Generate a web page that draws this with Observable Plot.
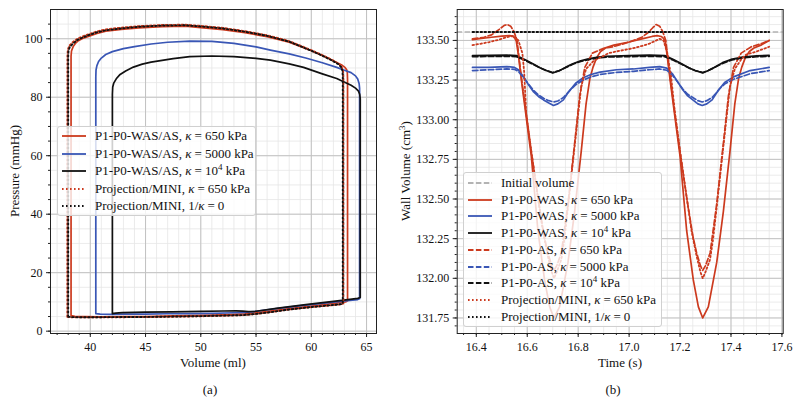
<!DOCTYPE html>
<html><head><meta charset="utf-8">
<script src="https://cdn.jsdelivr.net/npm/d3@7"></script>
<script src="https://cdn.jsdelivr.net/npm/@observablehq/plot@0.6"></script>
<style>
body{margin:0;background:#fff;}
#root{position:relative;width:800px;height:404px;overflow:hidden;font-family:"Liberation Serif",serif;font-size:13px;color:#111;background:#fff}
.panel{position:absolute;top:0}
.lbl{position:absolute;white-space:nowrap;transform:translate(-50%,-50%);line-height:1}
.rot{transform:translate(-50%,-50%) rotate(-90deg)}
.legend{position:absolute;background:rgba(255,255,255,0.8);border:1px solid #d0d0d0;border-radius:3px;box-sizing:border-box}
.row{position:absolute;left:0;height:16px;white-space:nowrap}
.row svg{position:absolute;left:3px;top:3px}
.row span{position:absolute;top:0px;line-height:15px}
.eq{padding:0 3px}
sup{font-size:9px;vertical-align:5px;line-height:0}
i{font-style:italic}
</style></head>
<body><div id="root"></div>
<script>
// ---------- Panel (a): PV loops (Volume ml, Pressure mmHg) ----------
const redWAS = [[38.26,5.3],[38.6,5.05],[39.5,4.95],[41,4.9],[43,4.95],[45,5.0],[47.5,5.2],[50,5.4],[52,5.6],[54,5.95],[55,6.3],[56,6.75],[58,7.7],[60,8.6],[62,9.5],[63.1,10.0],[63.28,10.4],[63.28,30],[63.28,60],[63.28,86],[63.26,88.4],[63.2,89.4],[63.05,90.2],[62.8,90.9],[62.3,91.9],[61.5,93.4],[60,95.9],[58,98.8],[56,100.7],[54,102.1],[52,103.1],[50,103.8],[48.6,104.3],[46.5,104.1],[44.4,103.7],[42.8,103.2],[41.4,102.6],[40.6,101.8],[39.9,100.9],[39.3,100.1],[38.87,99.2],[38.65,98.4],[38.45,97.3],[38.3,95.8],[38.26,94],[38.26,60],[38.26,30],[38.26,5.3]];
const blueWAS = [[40.5,6.0],[40.9,5.8],[42,5.75],[43,5.8],[45,5.85],[47,5.95],[49,6.0],[51,6.1],[53,6.3],[54,6.45],[55,6.8],[57,7.8],[59.5,8.9],[62,9.9],[63.5,10.5],[64.2,10.8],[64.37,11.1],[64.37,30],[64.37,60],[64.37,83],[64.33,84.6],[64.2,86.2],[64.0,87.3],[63.6,88.4],[63,89.2],[62.3,90.2],[61,91.8],[59.5,93.4],[58,94.8],[56.3,96.1],[55,97.2],[53,98.4],[51,99.1],[49,99.2],[47,98.8],[45.5,98.2],[44,97.3],[43,96.6],[42,95.6],[41.4,94.6],[41,93.4],[40.75,92.2],[40.6,90.8],[40.52,89.3],[40.5,87],[40.5,60],[40.5,30],[40.5,6.0]];
const blackWAS = [[42,6.0],[42.3,6.15],[42.9,6.35],[45,6.5],[47.4,6.6],[50,6.75],[52,6.9],[53.2,6.95],[53.8,6.85],[54.3,6.65],[55,6.8],[57,7.9],[59.5,9.1],[62,10.2],[63.5,10.85],[64.2,11.2],[64.43,11.5],[64.43,30],[64.43,60],[64.43,79.5],[64.38,81],[64.25,82.2],[64,83.1],[63.6,84.1],[62.3,86.4],[61,88.0],[59.3,90.2],[58,91.4],[56.3,92.7],[55,93.3],[53,93.9],[51,94.1],[49,93.9],[47.5,93.2],[46.5,92.6],[45.5,92.0],[44.7,91.3],[43.9,90.3],[43.2,89],[42.7,87.8],[42.35,86.3],[42.12,84.8],[42.03,83.5],[42,81],[42,60],[42,30],[42,6.0]];
const redMINI = [[37.92,4.9],[38.3,4.75],[39.5,4.7],[42,4.75],[45.9,4.85],[50,5.1],[53.8,5.45],[55,5.9],[56.5,6.6],[58,7.4],[60,8.2],[62,8.9],[62.75,9.2],[62.9,9.5],[62.9,30],[62.9,60],[62.9,87],[62.87,89],[62.75,90.4],[62.5,91.4],[62,92.5],[61,94.4],[60,96.1],[58,99.2],[56,101.2],[54,102.6],[52,103.7],[50,104.4],[48.6,104.8],[46.5,104.7],[44.4,104.3],[42.8,103.8],[41.4,103.2],[40.6,102.5],[39.9,101.6],[39.3,100.8],[38.8,99.9],[38.4,98.8],[38.1,97.6],[37.97,96.3],[37.93,94],[37.92,60],[37.92,30],[37.92,4.9]];
const blackMINI = [[38.0,4.95],[38.4,4.8],[39.5,4.75],[42,4.8],[45.9,4.9],[50,5.15],[53.8,5.5],[55,5.9],[56.5,6.6],[58,7.4],[60,8.25],[62,8.95],[62.7,9.25],[62.85,9.55],[62.85,30],[62.85,60],[62.85,87],[62.82,89],[62.7,90.3],[62.45,91.3],[61.95,92.4],[61,94.2],[60,95.9],[58,99.0],[56,101.0],[54,102.4],[52,103.5],[50,104.2],[48.6,104.6],[46.5,104.5],[44.4,104.1],[42.8,103.5],[41.4,102.9],[40.6,102.2],[39.9,101.3],[39.3,100.4],[38.8,99.5],[38.45,98.4],[38.15,97.2],[38.03,96],[38.0,94],[38.0,60],[38.0,30],[38.0,4.95]];
const leftXTicks = [40,45,50,55,60,65];
const leftYTicks = [0,20,40,60,80,100];

// ---------- Panel (b): wall volume over time ----------
const initialVolume = [133.553];
const redWASt = [[16.385,133.505],[16.42,133.512],[16.46,133.52],[16.50,133.527],[16.53,133.53],[16.542,133.527],[16.551,133.515],[16.557,133.495],[16.565,133.41],[16.577,133.25],[16.616,132.77],[16.642,132.30],[16.668,131.99],[16.688,131.82],[16.705,131.75],[16.727,131.82],[16.760,132.10],[16.786,132.42],[16.812,132.80],[16.831,133.10],[16.846,133.26],[16.858,133.33],[16.872,133.39],[16.888,133.43],[16.91,133.455],[16.94,133.47],[17.00,133.49],[17.05,133.51],[17.09,133.525],[17.11,133.53],[17.126,133.525],[17.135,133.513],[17.141,133.495],[17.149,133.41],[17.161,133.25],[17.20,132.77],[17.226,132.30],[17.252,131.99],[17.272,131.82],[17.289,131.75],[17.311,131.82],[17.344,132.10],[17.370,132.42],[17.396,132.80],[17.415,133.10],[17.43,133.26],[17.442,133.33],[17.456,133.39],[17.472,133.43],[17.49,133.452],[17.52,133.472],[17.55,133.50]];
const blueWASt = [[16.385,133.33],[16.45,133.33],[16.52,133.335],[16.55,133.33],[16.565,133.315],[16.586,133.27],[16.605,133.22],[16.625,133.175],[16.645,133.145],[16.664,133.125],[16.685,133.105],[16.703,133.09],[16.72,133.10],[16.742,133.125],[16.756,133.16],[16.77,133.19],[16.79,133.23],[16.82,133.265],[16.85,133.285],[16.886,133.30],[16.95,133.315],[17.017,133.32],[17.08,133.33],[17.12,133.335],[17.148,133.325],[17.17,133.29],[17.19,133.24],[17.21,133.19],[17.23,133.15],[17.25,133.125],[17.27,133.10],[17.287,133.09],[17.305,133.10],[17.326,133.125],[17.34,133.16],[17.355,133.195],[17.375,133.235],[17.41,133.27],[17.475,133.31],[17.55,133.33]];
const blackWASt = [[16.385,133.405],[16.45,133.406],[16.52,133.407],[16.557,133.405],[16.59,133.38],[16.622,133.353],[16.65,133.328],[16.675,133.31],[16.70,133.295],[16.727,133.31],[16.75,133.33],[16.779,133.353],[16.81,133.372],[16.844,133.385],[16.88,133.395],[16.91,133.40],[17.0,133.405],[17.08,133.407],[17.14,133.405],[17.174,133.38],[17.206,133.353],[17.234,133.328],[17.259,133.31],[17.289,133.295],[17.311,133.31],[17.334,133.33],[17.367,133.36],[17.40,133.38],[17.446,133.395],[17.50,133.403],[17.55,133.406]];
const redASt = [[16.385,133.51],[16.43,133.52],[16.46,133.535],[16.49,133.57],[16.51,133.595],[16.522,133.60],[16.535,133.59],[16.548,133.555],[16.56,133.50],[16.576,133.28],[16.596,133.04],[16.616,132.80],[16.642,132.51],[16.666,132.27],[16.681,132.16],[16.696,132.08],[16.705,132.05],[16.716,132.08],[16.734,132.16],[16.760,132.47],[16.786,132.85],[16.806,133.15],[16.826,133.33],[16.856,133.42],[16.90,133.45],[16.936,133.46],[16.97,133.475],[17.00,133.49],[17.05,133.52],[17.075,133.55],[17.093,133.58],[17.106,133.60],[17.12,133.59],[17.132,133.555],[17.144,133.50],[17.16,133.28],[17.18,133.04],[17.20,132.80],[17.226,132.51],[17.25,132.27],[17.265,132.16],[17.28,132.08],[17.289,132.05],[17.30,132.08],[17.318,132.16],[17.344,132.47],[17.37,132.85],[17.39,133.15],[17.41,133.33],[17.44,133.42],[17.48,133.46],[17.52,133.48],[17.55,133.50]];
const blueASt = [[16.385,133.31],[16.45,133.315],[16.52,133.32],[16.55,133.318],[16.565,133.305],[16.586,133.265],[16.605,133.225],[16.625,133.185],[16.645,133.155],[16.664,133.135],[16.685,133.12],[16.703,133.112],[16.72,133.118],[16.742,133.14],[16.756,133.165],[16.77,133.19],[16.79,133.22],[16.82,133.25],[16.85,133.27],[16.886,133.285],[16.95,133.298],[17.017,133.305],[17.08,133.315],[17.12,133.32],[17.148,133.312],[17.17,133.28],[17.19,133.24],[17.21,133.195],[17.23,133.16],[17.25,133.14],[17.27,133.12],[17.287,133.112],[17.305,133.12],[17.326,133.14],[17.34,133.165],[17.355,133.195],[17.375,133.225],[17.41,133.255],[17.475,133.29],[17.55,133.31]];
const blackASt = [[16.385,133.398],[16.45,133.399],[16.52,133.40],[16.557,133.398],[16.59,133.375],[16.622,133.35],[16.65,133.327],[16.675,133.31],[16.70,133.298],[16.727,133.31],[16.75,133.328],[16.779,133.35],[16.81,133.368],[16.844,133.38],[16.88,133.39],[16.91,133.395],[17.0,133.398],[17.08,133.40],[17.14,133.398],[17.174,133.375],[17.206,133.35],[17.234,133.327],[17.259,133.31],[17.289,133.298],[17.311,133.31],[17.334,133.328],[17.367,133.355],[17.40,133.375],[17.446,133.39],[17.50,133.397],[17.55,133.399]];
const redMINIt = [[16.385,133.47],[16.42,133.48],[16.452,133.49],[16.49,133.505],[16.518,133.52],[16.55,133.53],[16.565,133.50],[16.581,133.42],[16.588,133.30],[16.596,133.04],[16.616,132.80],[16.642,132.51],[16.661,132.30],[16.681,132.14],[16.696,132.04],[16.705,132.00],[16.716,132.04],[16.734,132.12],[16.746,132.25],[16.760,132.45],[16.786,132.83],[16.812,133.21],[16.831,133.32],[16.86,133.37],[16.884,133.39],[16.92,133.42],[16.949,133.43],[17.014,133.45],[17.05,133.465],[17.08,133.48],[17.10,133.495],[17.12,133.51],[17.135,133.50],[17.15,133.42],[17.165,133.27],[17.18,133.04],[17.20,132.80],[17.226,132.51],[17.245,132.30],[17.265,132.14],[17.28,132.04],[17.289,132.00],[17.30,132.04],[17.318,132.12],[17.33,132.25],[17.344,132.45],[17.37,132.83],[17.396,133.21],[17.415,133.32],[17.44,133.38],[17.459,133.41],[17.50,133.43],[17.55,133.46]];
const blackMINIt = [[16.385,133.553],[17.55,133.553]];
const rightXTicks = [16.4,16.6,16.8,17.0,17.2,17.4,17.6];
const rightYTicks = [131.75,132.0,132.25,132.5,132.75,133.0,133.25,133.5];

const RED = "#cc3a1e", BLUE = "#3956b5", BLACK = "#111111", GRAY = "#b3b3b3";
const DASH = "5.5,2.4", DOT = "1.6,2.4";
const FONT = "Liberation Serif, serif";

function baseMarks(xMaj, yMaj, xMin, yMin, xFmt, yFmt) {
  return [
    Plot.gridX(xMin, {stroke: "#e6e6e6", strokeOpacity: 1, strokeWidth: 0.8}),
    Plot.gridY(yMin, {stroke: "#e6e6e6", strokeOpacity: 1, strokeWidth: 0.8}),
    Plot.gridX(xMaj, {stroke: "#c2c2c2", strokeOpacity: 1, strokeWidth: 1}),
    Plot.gridY(yMaj, {stroke: "#c2c2c2", strokeOpacity: 1, strokeWidth: 1}),
    Plot.axisX(xMin, {tickSize: 2, tickFormat: () => "", label: null, stroke: "#222"}),
    Plot.axisY(yMin, {tickSize: 2, tickFormat: () => "", label: null, stroke: "#222"}),
    Plot.axisX(xMaj, {tickSize: 4, tickPadding: 5, tickFormat: xFmt, label: null, fontSize: 12, stroke: "#222", fill: "#111"}),
    Plot.axisY(yMaj, {tickSize: 4, tickPadding: 4, tickFormat: yFmt, label: null, fontSize: 12, stroke: "#222", fill: "#111"})
  ];
}
function ln(data, stroke, dash, w) {
  return Plot.line(data, {x: d => d[0], y: d => d[1], stroke, strokeWidth: w || 1.7, strokeDasharray: dash || null, strokeLinejoin: "round"});
}

const root = document.getElementById("root");

const left = Plot.plot({
  width: 400, height: 404,
  marginLeft: 50, marginRight: 24, marginTop: 9, marginBottom: 71,
  x: {domain: [36.4, 65.9]},
  y: {domain: [-0.8, 110]},
  style: {fontFamily: FONT, fontSize: "12px", background: "transparent", color: "#111"},
  marks: [
    ...baseMarks(leftXTicks, leftYTicks, d3.range(37, 66, 1), d3.range(0, 110, 5), d => String(d), d => String(d)),
    ln(redWAS, RED), ln(blueWAS, BLUE), ln(blackWAS, BLACK),
    ln(redMINI, RED, DOT, 1.9), ln(blackMINI, BLACK, DOT, 1.9),
    Plot.frame({stroke: "#222", strokeWidth: 1})
  ]
});
left.classList.add("panel"); left.style.left = "0px";
root.appendChild(left);

const right = Plot.plot({
  width: 400, height: 404,
  marginLeft: 56.7, marginRight: 17.3, marginTop: 9, marginBottom: 71,
  x: {domain: [16.325, 17.605]},
  y: {domain: [131.652, 133.695]},
  style: {fontFamily: FONT, fontSize: "12px", background: "transparent", color: "#111"},
  marks: [
    ...baseMarks(rightXTicks, rightYTicks, d3.range(16.35, 17.601, 0.05), d3.range(131.7, 133.69, 0.05), d3.format(".1f"), d3.format(".2f")),
    Plot.ruleY(initialVolume, {stroke: GRAY, strokeWidth: 1.6, strokeDasharray: DASH}),
    ln(redWASt, RED), ln(blueWASt, BLUE), ln(blackWASt, BLACK),
    ln(redASt, RED, DASH), ln(blueASt, BLUE, DASH), ln(blackASt, BLACK, DASH),
    ln(redMINIt, RED, DOT, 1.8), ln(blackMINIt, BLACK, DOT, 1.8),
    Plot.frame({stroke: "#222", strokeWidth: 1})
  ]
});
right.classList.add("panel"); right.style.left = "400px";
root.appendChild(right);

function label(text, x, y, rot) {
  const d = document.createElement("div");
  d.className = "lbl" + (rot ? " rot" : "");
  d.style.left = x + "px"; d.style.top = y + "px";
  d.innerHTML = text;
  root.appendChild(d);
}
label("Pressure (mmHg)", 14, 171, true);
label("Volume (ml)", 213, 362);
label("(a)", 210, 389);
label("Wall Volume (cm<sup>3</sup>)", 405, 171, true);
label("Time (s)", 620, 362);
label("(b)", 613, 389);

function legend(x, y, w, h, step, first, items) {
  const box = document.createElement("div");
  box.className = "legend";
  box.style.left = x + "px"; box.style.top = y + "px";
  box.style.width = w + "px"; box.style.height = h + "px";
  items.forEach((it, i) => {
    const r = document.createElement("div");
    r.className = "row";
    r.style.top = (first + i * step - 8) + "px";
    r.style.width = w + "px";
    r.innerHTML = `<svg width="26" height="10"><line x1="1" x2="25" y1="5" y2="5" stroke="${it.c}" stroke-width="1.8" ${it.d ? `stroke-dasharray="${it.d}"` : ""}/></svg><span style="left:${it.tx}px">${it.t}</span>`;
    box.appendChild(r);
  });
  root.appendChild(box);
}
const K = "<i>κ</i><span class='eq' style='position:static'>=</span>";
const K0 = "1/<i>κ</i><span class='eq' style='position:static'>=</span>0";
legend(57, 126, 199, 90, 17.5, 9, [
  {c: RED, t: "P1-P0-WAS/AS, " + K + "650 kPa", tx: 37},
  {c: BLUE, t: "P1-P0-WAS/AS, " + K + "5000 kPa", tx: 37},
  {c: BLACK, t: "P1-P0-WAS/AS, " + K + "10<sup>4</sup> kPa", tx: 37},
  {c: RED, d: DOT, t: "Projection/MINI, " + K + "650 kPa", tx: 37},
  {c: BLACK, d: DOT, t: "Projection/MINI, " + K0, tx: 37}
]);
legend(463, 172, 199, 155, 16.72, 10, [
  {c: GRAY, d: DASH, t: "Initial volume", tx: 37},
  {c: RED, t: "P1-P0-WAS, " + K + "650 kPa", tx: 37},
  {c: BLUE, t: "P1-P0-WAS, " + K + "5000 kPa", tx: 37},
  {c: BLACK, t: "P1-P0-WAS, " + K + "10<sup>4</sup> kPa", tx: 37},
  {c: RED, d: DASH, t: "P1-P0-AS, " + K + "650 kPa", tx: 37},
  {c: BLUE, d: DASH, t: "P1-P0-AS, " + K + "5000 kPa", tx: 37},
  {c: BLACK, d: DASH, t: "P1-P0-AS, " + K + "10<sup>4</sup> kPa", tx: 37},
  {c: RED, d: DOT, t: "Projection/MINI, " + K + "650 kPa", tx: 37},
  {c: BLACK, d: DOT, t: "Projection/MINI, " + K0, tx: 37}
]);
</script>
</body></html>
